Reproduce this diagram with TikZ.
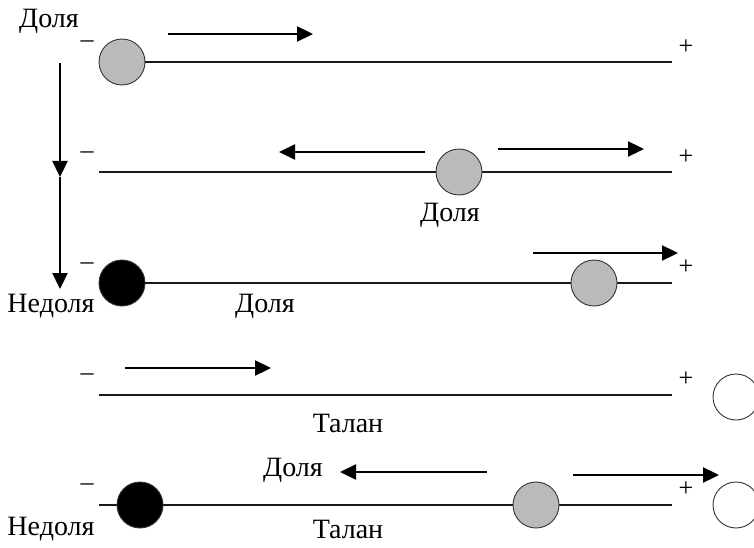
\documentclass[tikz,border=0pt]{standalone}
\usepackage{fontspec}
\setmainfont{Liberation Serif}
\usetikzlibrary{arrows.meta}
\tikzset{
  track/.style={line width=2.8pt, draw=black!90},
  mover/.style={line width=2.3pt, -{Triangle[length=16pt,width=15pt]}},
  bead/.style={circle, draw=black!80, line width=0.9pt, minimum size=46pt, inner sep=0pt},
  dolya/.style={bead, fill=black!27},
  nedolya/.style={bead, fill=black},
  talan/.style={bead, fill=white},
  lbl/.style={font=\fontsize{28}{32}\selectfont, inner sep=0pt},
  sign/.style={font=\fontsize{26}{30}\selectfont, inner sep=0pt},
}
\begin{document}
\begin{tikzpicture}[x=1pt,y=-1pt]
\useasboundingbox (0,0) rectangle (754,548);

% row 1
\coordinate (e1) at (672,62);
\node[dolya] (c1) at (122,62) {};
\draw[track] (c1.east) -- (e1);
\node[sign] (m1) at (87,44) {–};
\node[sign] (p1) at (686,47) {+};
\coordinate (a1s) at (168,34); \coordinate (a1e) at (313,34);
\draw[mover] (a1s) -- (a1e);
\node[lbl] (t1) at (49,21) {Доля};

% vertical arrow down the rows
\coordinate (v0) at (60,63); \coordinate (vm) at (60,177); \coordinate (v1) at (60,289);
\draw[mover] (v0) -- (vm);
\draw[mover] (vm) -- (v1);

% row 2
\coordinate (s2) at (99,172); \coordinate (e2) at (672,172);
\draw[track] (s2) -- (e2);
\node[dolya] (c2) at (459,172) {};
\node[sign] (m2) at (87,155) {–};
\node[sign] (p2) at (686,157) {+};
\coordinate (a2s) at (425,152); \coordinate (a2e) at (279,152);
\draw[mover] (a2s) -- (a2e);
\coordinate (a3s) at (498,149); \coordinate (a3e) at (644,149);
\draw[mover] (a3s) -- (a3e);
\node[lbl] (t2) at (450,215) {Доля};

% row 3
\coordinate (e3) at (672,283);
\node[nedolya] (c3) at (122,283) {};
\draw[track] (c3.east) -- (e3);
\node[dolya] (c4) at (594,283) {};
\node[sign] (m3) at (87,266) {–};
\node[sign] (p3) at (686,267) {+};
\coordinate (a4s) at (533,253); \coordinate (a4e) at (678,253);
\draw[mover] (a4s) -- (a4e);
\node[lbl] (t3) at (51,306) {Недоля};
\node[lbl] (t4) at (265,306) {Доля};

% row 4
\coordinate (s4) at (99,395); \coordinate (e4) at (672,395);
\draw[track] (s4) -- (e4);
\node[sign] (m4) at (87,377) {–};
\node[sign] (p4) at (686,379) {+};
\coordinate (a5s) at (125,368); \coordinate (a5e) at (271,368);
\draw[mover] (a5s) -- (a5e);
\node[lbl] (t5) at (348,423) {Талан};
\node[talan] (c5) at (736,397) {};

% row 5
\coordinate (s5) at (99,505); \coordinate (e5) at (672,505);
\draw[track] (s5) -- (e5);
\node[nedolya] (c6) at (140,505) {};
\node[dolya] (c7) at (536,505) {};
\node[sign] (m5) at (87,487) {–};
\node[sign] (p5) at (686,489) {+};
\coordinate (a6s) at (487,472); \coordinate (a6e) at (340,472);
\draw[mover] (a6s) -- (a6e);
\coordinate (a7s) at (573,475); \coordinate (a7e) at (719,475);
\draw[mover] (a7s) -- (a7e);
\node[lbl] (t6) at (293,470) {Доля};
\node[lbl] (t7) at (51,529) {Недоля};
\node[lbl] (t8) at (348,529) {Талан};
\node[talan] (c8) at (736,505) {};
\end{tikzpicture}
\end{document}
